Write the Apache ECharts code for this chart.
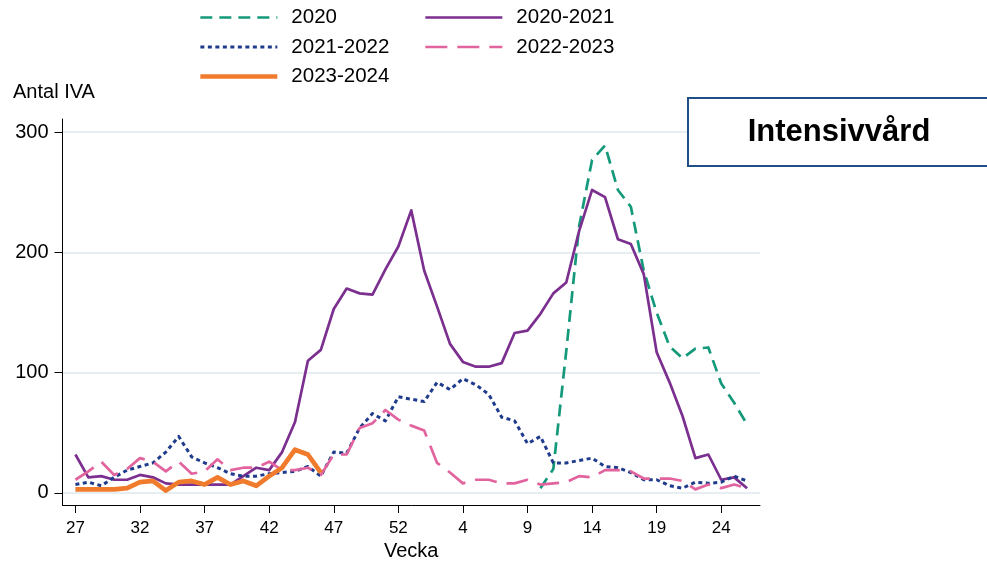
<!DOCTYPE html>
<html><head><meta charset="utf-8">
<script src="https://cdn.jsdelivr.net/npm/echarts@6/dist/echarts.min.js"></script>
<style>html,body{margin:0;padding:0;background:#fff}#c{width:987px;height:563px}</style>
</head><body><div id="c"></div>
<script>
// ---- data ----
const weeks = [27,28,29,30,31,32,33,34,35,36,37,38,39,40,41,42,43,44,45,46,47,48,49,50,51,52,53,
               1,2,3,4,5,6,7,8,9,10,11,12,13,14,15,16,17,18,19,20,21,22,23,24,25,26];
const xTickWeeks = [27,32,37,42,47,52,4,9,14,19,24];
const yTicks = [0,100,200,300];

const s2020StartWeek = 10;
const s2020 = [4,20,118,222,277,289,252,238,185,150,122,112,120,121,91,75,57];
const s2020_2021 = [32,13,14,11,11,15,13,8,7,7, 7,7,7,14,21,19,34,59,110,119,
                    153,170,166,165,186,205,235,185,155,124, 109,105,105,108,133,135,149,166,175,218,
                    252,246,211,207,182,117,92,64,29,32, 11,13,4];
const s2021_2022 = [7,9,6,13,19,22,25,34,47,30, 25,21,16,14,14,16,17,18,22,14,
                    34,33,54,66,60,80,78,76,92,86, 95,90,82,63,60,41,47,25,25,27,
                    29,22,21,17,11,11,6,4,9,8, 9,14,10];
const s2022_2023 = [11,18,26,15,20,29,26,18,26,16, 18,28,19,21,21,26,19,19,21,15,
                    32,32,54,58,69,61,56,52,25,17, 8,11,11,8,8,11,7,8,9,14,
                    13,19,19,18,12,12,12,10,3,7, 4,7,4];
const s2023_2024 = [3,3,3,3,4,9,10,2,9,10,7,13,7,10,6,14,21,36,32,17];

// ---- build ----
const cats = [''].concat(weeks.map(String)).concat(['']);
function place(values, startIdx) {
  const out = new Array(cats.length).fill(null);
  values.forEach((v, k) => { out[1 + startIdx + k] = v; });
  return out;
}
const tickSet = new Set(xTickWeeks.map(String));
const showTick = (idx, val) => idx > 0 && idx < cats.length - 1 && tickSet.has(String(val));
const FONT = '"Liberation Sans", Arial, sans-serif';

const chart = echarts.init(document.getElementById('c'), null, {renderer: 'canvas'});
const mk = (name, data, color, width, dash, z) => ({
  name, type: 'line', data, symbol: 'none', showSymbol: false, connectNulls: false,
  animation: false, z: z,
  lineStyle: {color, width, type: dash, cap: 'butt', join: 'round'},
  itemStyle: {color},
  emphasis: {disabled: true}
});
const legText = {fontSize: 20.5, color: '#000', fontFamily: FONT, padding: [0,0,0,9]};
const legCommon = {
  orient: 'vertical', top: 7, padding: 0, itemWidth: 77, itemHeight: 14, itemGap: 8.5,
  textStyle: legText, selectedMode: false,
  itemStyle: {color: 'transparent', borderWidth: 0, opacity: 0},
  lineStyle: {width: 'inherit', type: 'inherit', color: 'inherit', opacity: 1}
};
chart.setOption({
  animation: false,
  textStyle: {fontFamily: FONT},
  title: {text: 'Antal IVA', left: 13, top: 82, padding: 0,
          textStyle: {fontSize: 20, fontWeight: 'normal', color: '#000', fontFamily: FONT}},
  legend: [
    Object.assign({data: ['2020','2021-2022','2023-2024'], left: 198}, legCommon),
    Object.assign({data: ['2020-2021','2022-2023'], left: 424}, legCommon)
  ],
  grid: {left: 62.5, right: 227, top: 119, bottom: 58, containLabel: false, outerBoundsMode: 'none'},
  xAxis: {
    type: 'category', data: cats, boundaryGap: false,
    axisLine: {onZero: false, lineStyle: {color: '#000', width: 1}},
    axisTick: {interval: showTick, length: 8, lineStyle: {color: '#000'}},
    axisLabel: {interval: showTick, fontSize: 17, color: '#000', margin: 15, fontFamily: FONT},
    splitLine: {show: false},
    name: 'Vecka', nameLocation: 'middle', nameGap: 36,
    nameTextStyle: {fontSize: 20, color: '#000', fontFamily: FONT}
  },
  yAxis: {
    type: 'value', min: -10, max: 311,
    axisLine: {show: true, lineStyle: {color: '#000', width: 1}},
    axisTick: {show: true, length: 8, customValues: yTicks, lineStyle: {color: '#000'}},
    axisLabel: {customValues: yTicks, fontSize: 20, color: '#000', margin: 14, fontFamily: FONT},
    splitLine: {show: true, lineStyle: {color: '#e7eef1', width: 2}}
  },
  series: [
    mk('2020', place(s2020, weeks.indexOf(s2020StartWeek)), '#14997a', 2.7, [12,7], 2),
    mk('2020-2021', place(s2020_2021, 0), '#7b2f8e', 2.7, 'solid', 3),
    mk('2021-2022', place(s2021_2022, 0), '#1f3b8c', 3, [4,3.5], 4),
    mk('2022-2023', place(s2022_2023, 0), '#e2649f', 2.7, [22,10], 5),
    mk('2023-2024', place(s2023_2024, 0), '#f07b2c', 4.7, 'solid', 6)
  ],
  graphic: [
    {type: 'rect', z: 100, shape: {x: 688, y: 98, width: 330, height: 68},
     style: {fill: '#fff', stroke: '#1e4f86', lineWidth: 2}},
    {type: 'text', z: 101, x: 839, y: 132,
     style: {text: 'Intensivvård', font: 'bold 31px "Liberation Sans", Arial, sans-serif',
             fill: '#000', align: 'center', verticalAlign: 'middle'}}
  ]
});
</script></body></html>
